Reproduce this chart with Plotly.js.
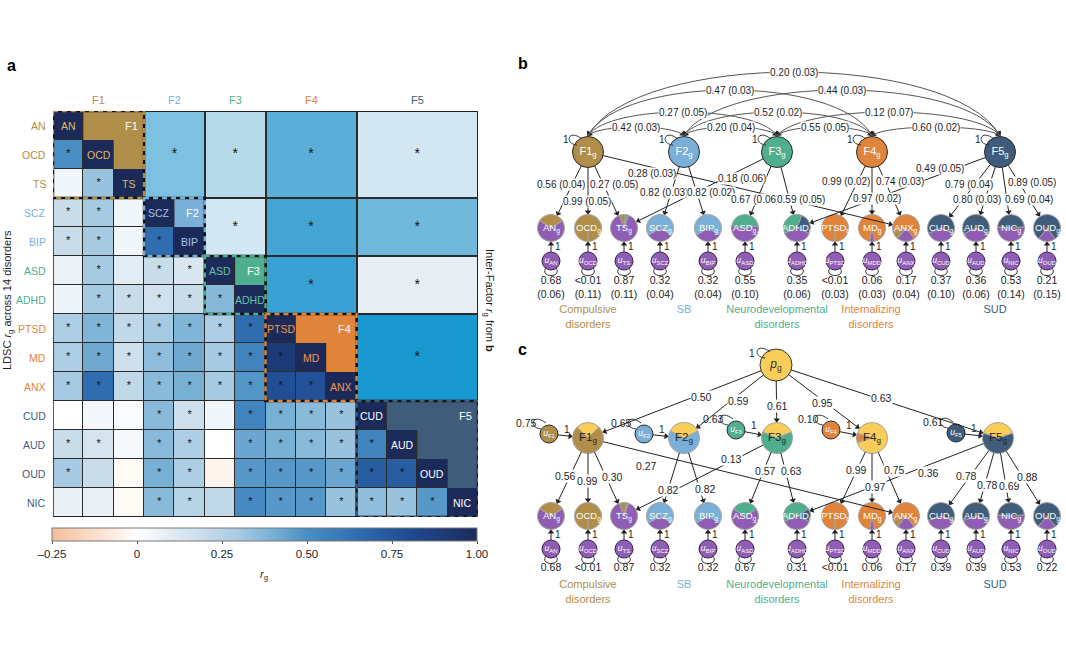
<!DOCTYPE html>
<html><head><meta charset="utf-8">
<script src="https://cdn.plot.ly/plotly-3.0.1.min.js"></script>
<style>html,body{margin:0;padding:0;background:#fff}#chart{width:1066px;height:660px}</style>
</head><body><div id="chart"></div>
<script>
// ---------------- DATA ----------------
const disorders = ['AN','OCD','TS','SCZ','BIP','ASD','ADHD','PTSD','MD','ANX','CUD','AUD','OUD','NIC'];
const disorderFactor = [0,0,0,1,1,2,2,3,3,3,4,4,4,4];
const factorNames = ['F1','F2','F3','F4','F5'];
// LDSC rg, lower triangle (row i, columns 0..i-1)
const ldscLower = [
  [],
  [0.50],
  [0.05,0.33],
  [0.20,0.30,0.05],
  [0.20,0.30,0.05,0.65],
  [0.07,0.30,0.10,0.20,0.13],
  [0.06,0.30,0.20,0.17,0.20,0.37],
  [0.28,0.38,0.22,0.30,0.38,0.28,0.65],
  [0.28,0.42,0.18,0.35,0.42,0.30,0.55,0.90],
  [0.30,0.65,0.22,0.36,0.40,0.30,0.48,0.78,0.77],
  [0.00,0.04,0.02,0.36,0.18,0.05,0.55,0.40,0.36,0.33],
  [0.20,0.15,0.03,0.36,0.28,0.00,0.43,0.40,0.36,0.33,0.55],
  [0.30,0.20,-0.02,0.40,0.28,-0.04,0.47,0.47,0.47,0.43,0.72,0.72],
  [0.08,0.08,-0.02,0.36,0.25,0.22,0.52,0.47,0.47,0.33,0.35,0.33,0.47]
];
const ldscSig = [
  [],
  [1],
  [0,1],
  [1,1,0],
  [1,1,0,1],
  [0,1,0,1,1],
  [0,1,1,1,1,1],
  [1,1,1,1,1,1,1],
  [1,1,1,1,1,1,1,1],
  [1,1,1,1,1,1,1,1,1],
  [0,0,0,1,1,0,1,1,1,1],
  [1,1,0,1,1,0,1,1,1,1,1],
  [1,0,0,1,1,0,1,1,1,1,1,1],
  [0,0,0,1,1,0,1,1,1,1,1,1,1]
];
// inter-factor correlations (panel b)
const corrFrom = [0,0,0,0,1,1,1,2,2,3];
const corrTo   = [1,2,3,4,2,3,4,3,4,4];
const corrEst  = [0.42,0.27,0.47,0.20,0.20,0.52,0.44,0.55,0.12,0.60];
const corrSE   = [0.03,0.05,0.03,0.03,0.04,0.02,0.03,0.05,0.07,0.02];
// model indicators
const modelInd = ['AN','OCD','TS','SCZ','BIP','ASD','ADHD','PTSD','MD','ANX','CUD','AUD','NIC','OUD'];
const uNames   = ['AN','OCD','TS','SCZ','BIP','ASD','ADHD','PTSD','MDD','ANX','CUD','AUD','NIC','OUD'];
const loadFactor = [0,0,0,0,1,1,2,2,2,3,3,3,4,4,4,4,4];
const loadInd    = ['AN','OCD','TS','ANX','SCZ','BIP','TS','ASD','ADHD','PTSD','MD','ANX','ADHD','CUD','AUD','NIC','OUD'];
const loadEstB   = [0.56,0.99,0.27,0.28,0.82,0.82,0.18,0.67,0.59,0.99,0.97,0.74,0.49,0.79,0.80,0.69,0.89];
const loadSEB    = [0.04,0.05,0.05,0.03,0.03,0.02,0.06,0.06,0.05,0.02,0.02,0.03,0.05,0.04,0.03,0.04,0.05];
const residB     = [0.68,0.005,0.87,0.32,0.32,0.55,0.35,0.005,0.06,0.17,0.37,0.36,0.53,0.21];
const residSEB   = [0.06,0.11,0.11,0.04,0.04,0.10,0.06,0.03,0.03,0.04,0.10,0.06,0.14,0.15];
// panel c (hierarchical)
const pLoad        = [0.50,0.59,0.61,0.95,0.63];
const factorResidC = [0.75,0.65,0.63,0.10,0.61];
const loadEstC     = [0.56,0.99,0.30,0.27,0.82,0.82,0.13,0.57,0.63,0.99,0.97,0.75,0.36,0.78,0.78,0.69,0.88];
const residC       = [0.68,0.005,0.87,0.32,0.32,0.67,0.31,0.005,0.06,0.17,0.39,0.39,0.53,0.22];
const groupNames = ['Compulsive<br>disorders','SB','Neurodevelopmental<br>disorders','Internalizing<br>disorders','SUD'];

// ---------------- LAYOUT / STYLE ----------------
const W=1066,H=660;
const FONT='Liberation Sans, Arial, Helvetica, sans-serif';
const FCOL=['#b08d48','#7aafd8','#4fae8e','#e0843c','#3f5c7a'];
const DIAGCOL=['#dcba6a','#a3c6e8','#66c4a2','#ef9852','#ffffff'];
const PURPLE='#8f5db3', PGCOL='#f8cd58', INK='#1e1e1e';
const R_F=15.5, R_I=13.5, R_U=9, R_PG=16;
const FX_B=[588,684,777,872,1000], FY_B=152;
const FX_C=[588,684,777,872,998], FY_C=438;
const IND_X=[551,588,624,660,708,745,797,835,872,906,941,976,1011,1047];
const GRP_X=[588,684,777,871,995];
const ARC_APEX=[127,112,90,72,127,112,90,127,112,127];
const LAB_B=[[561,184],[587,201],[614,184],[652,173],[664,192],[711,192],[742,178],[755,199],[801,199],[846,181],[877,198],[900,181],[940,168],[969,184],[977,199],[1029,199],[1032,182]];
const LAB_C=[[565,476],[587,481],[612,477],[646,466],[668,490],[705,489],[731,459],[765,471],[791,471],[856,470],[875,487],[894,470],[928,473],[966,476],[987,485],[1009,486],[1027,477]];
const PG=[776,365];
const P_LAB=[[701,397],[738,401],[777,406],[822,403],[881,398]];
const UF_X=[549,644,736,831,956], UF_Y=[434,434,430,430,433];
const RES_ANG=[180,180,180,270,180];

const traces=[], shapes=[], annos=[];
const N=disorders.length;

// ---------------- PANEL A: heatmap ----------------
const fStart=[],fEnd=[];
disorderFactor.forEach((f,i)=>{ if(fStart[f]===undefined) fStart[f]=i; fEnd[f]=i; });
const zMain=[], starX=[], starY=[];
for(let i=0;i<N;i++){ const row=[]; for(let j=0;j<N;j++){
  if(j<i){ row.push(ldscLower[i][j]); if(ldscSig[i][j]){starX.push(j);starY.push(i);} }
  else if(j===i) row.push(1); else row.push(null);
} zMain.push(row); }
const edges=[-0.5].concat(fEnd.map(e=>e+0.5));
const zBlock=[]; const bsX=[],bsY=[];
for(let a=0;a<5;a++){ const row=[]; for(let b=0;b<5;b++){
  let v=null; for(let q=0;q<corrFrom.length;q++){ if(corrFrom[q]===a&&corrTo[q]===b) v=corrEst[q]; }
  row.push(v); if(v!==null){ bsX.push((fStart[b]+fEnd[b])/2); bsY.push((fStart[a]+fEnd[a])/2); }
} zBlock.push(row); }

const csMain=[[0,'#f5bf9a'],[0.12,'#fbe4d4'],[0.2,'#ffffff'],[0.28,'#e2ecf4'],[0.36,'#c8dcea'],[0.44,'#a6cae2'],[0.52,'#78b0d4'],[0.6,'#4a8ec4'],[0.72,'#2f6db0'],[0.84,'#1f4a92'],[1,'#1c2a5a']];
const csBlock=[[0,'#f5bf9a'],[0.2,'#ffffff'],[0.296,'#e6eef4'],[0.36,'#d2e7f1'],[0.416,'#b6daea'],[0.536,'#7ec0e0'],[0.576,'#5aaed8'],[0.616,'#44a4d4'],[0.64,'#38a0d2'],[0.68,'#1a98d0'],[1,'#0b4f8a']];

traces.push({type:'heatmap',x:disorders.map((d,i)=>i),y:disorders.map((d,i)=>i),z:zMain,zmin:-0.25,zmax:1,
  colorscale:csMain,xgap:1,ygap:1,hoverinfo:'skip',
  colorbar:{orientation:'h',x:264.5/W,xanchor:'center',y:1-528/H,yanchor:'top',len:425/W,lenmode:'fraction',
    thickness:13,thicknessmode:'pixels',xpad:0,ypad:0,outlinewidth:1,outlinecolor:'#777',
    tickvals:[-0.25,0,0.25,0.5,0.75,1],ticktext:['–0.25','0','0.25','0.50','0.75','1.00'],
    ticks:'outside',ticklen:3,tickcolor:'#555',tickfont:{family:FONT,size:11.5,color:INK}}});
traces.push({type:'heatmap',x:edges,y:edges,z:zBlock,zmin:-0.25,zmax:1,colorscale:csBlock,showscale:false,xgap:2,ygap:2,hoverinfo:'skip'});
traces.push({type:'scatter',mode:'text',x:starX,y:starY,text:starX.map(()=>'*'),textfont:{family:FONT,size:11,color:'#111'},hoverinfo:'skip',showlegend:false});
traces.push({type:'scatter',mode:'text',x:bsX,y:bsY,text:bsX.map(()=>'*'),textfont:{family:FONT,size:14,color:'#111'},hoverinfo:'skip',showlegend:false});

shapes.push({type:'rect',xref:'x',yref:'y',x0:-0.5,x1:13.5,y0:-0.5,y1:13.5,fillcolor:'#2a2a2a',line:{width:0},layer:'below'});
for(let f=0;f<5;f++){
  const s=fStart[f],e=fEnd[f];
  let p=`M ${s+0.5},${s-0.5} L ${e+0.5},${s-0.5} L ${e+0.5},${e-0.5}`;
  for(let k=e;k>s;k--){ p+=` L ${k-0.5},${k-0.5} L ${k-0.5},${k-1.5}`; }
  p+=' Z';
  shapes.push({type:'path',xref:'x',yref:'y',path:p,fillcolor:FCOL[f],line:{width:0},layer:'above'});
}
shapes.push({type:'rect',xref:'x',yref:'y',x0:-0.5,x1:13.5,y0:-0.5,y1:13.5,line:{color:'#222',width:1.5},layer:'above'});
for(let f=0;f<5;f++){
  const s=fStart[f],e=fEnd[f];
  shapes.push({type:'rect',xref:'x',yref:'y',x0:s-0.5,x1:e+0.5,y0:s-0.5,y1:e+0.5,line:{color:'#111',width:2.4},layer:'above'});
  shapes.push({type:'rect',xref:'x',yref:'y',x0:s-0.5,x1:e+0.5,y0:s-0.5,y1:e+0.5,line:{color:FCOL[f],width:2.4,dash:'5px,4px'},layer:'above'});
}
disorders.forEach((d,i)=>{
  const f=disorderFactor[i];
  annos.push({xref:'paper',yref:'y',x:48/W,y:i,xanchor:'right',yanchor:'middle',text:d,showarrow:false,font:{family:FONT,size:10.5,color:FCOL[f]}});
  annos.push({xref:'x',yref:'y',x:i,y:i,text:d,showarrow:false,font:{family:FONT,size:10.5,color:DIAGCOL[f]}});
});
for(let f=0;f<5;f++){
  annos.push({xref:'x',yref:'paper',x:(fStart[f]+fEnd[f])/2,y:1-100/H,yanchor:'middle',xanchor:'center',text:factorNames[f],showarrow:false,font:{family:FONT,size:11,color:FCOL[f]}});
  annos.push({xref:'x',yref:'y',x:fEnd[f],y:fStart[f],xshift:3,text:factorNames[f],showarrow:false,font:{family:FONT,size:11,color:'#ffffff'}});
}
function paperText(x,y,text,o){annos.push(Object.assign({xref:'paper',yref:'paper',x:x/W,y:1-y/H,xanchor:'center',yanchor:'middle',text:text,showarrow:false,font:{family:FONT,size:11,color:INK}},o||{}));}
paperText(8,300,'LDSC <i>r</i><sub>g</sub> across 14 disorders',{textangle:-90});
paperText(489,300,'Inter-Factor <i>r</i><sub>g</sub> from <b>b</b>',{textangle:90});
paperText(264,575,'<i>r</i><sub>g</sub>');
paperText(5,66,'<b>a</b>',{xanchor:'left',font:{family:FONT,size:16,color:'#000'}});
paperText(516,64,'<b>b</b>',{xanchor:'left',font:{family:FONT,size:16,color:'#000'}});
paperText(516,349,'<b>c</b>',{xanchor:'left',font:{family:FONT,size:16,color:'#000'}});

// ---------------- helpers for diagrams ----------------
const headX=[],headY=[],headA=[];
function arrow(x0,y0,x1,y1,s0,s1,col){
  const dx=x1-x0, dy=y1-y0, L=Math.hypot(dx,dy), ux=dx/L, uy=dy/L;
  shapes.push({type:'line',xref:'x2',yref:'y2',x0:x0+s0*ux,y0:y0+s0*uy,x1:x1-(s1+2)*ux,y1:y1-(s1+2)*uy,line:{color:col||'#222',width:1},layer:'above'});
  headX.push(x1-(s1+2.6)*ux); headY.push(y1-(s1+2.6)*uy); headA.push(Math.atan2(ux,-uy)*180/Math.PI);
}
function label(x,y,text,o){annos.push(Object.assign({xref:'x2',yref:'y2',x:x,y:y,text:text,showarrow:false,font:{family:FONT,size:10,color:INK},bgcolor:'#ffffff',borderpad:0},o||{}));}
function note(x,y,text,o){annos.push(Object.assign({xref:'x2',yref:'y2',x:x,y:y,text:text,showarrow:false,font:{family:FONT,size:10,color:INK}},o||{}));}
function pie(cx,cy,r,values,colors,rotation){traces.push({type:'pie',values:values,marker:{colors:colors,line:{color:'#a3a3a3',width:1}},domain:{x:[(cx-r)/W,(cx+r)/W],y:[1-(cy+r)/H,1-(cy-r)/H]},sort:false,direction:'clockwise',rotation:rotation,textinfo:'none',hoverinfo:'skip',showlegend:false});}
function loop(x,y){
  shapes.push({type:'path',xref:'x2',yref:'y2',path:`M ${x-11},${y-7} C ${x-24},${y-8} ${x-20},${y-24} ${x-6},${y-13}`,line:{color:'#333',width:1}});
}
function fmt(v){return v<0.01?'&lt;0.01':v.toFixed(2);}

function indicators(yI,yU,yV,resid,residSE,loadEst,fx,fy,labPos,withSE,grpY){
  modelInd.forEach((name,k)=>{
    const x=IND_X[k];
    const vals=[Math.max(resid[k],0.004)], cols=[PURPLE];
    loadInd.forEach((nm,m)=>{ if(nm===name){ vals.push(loadEst[m]*loadEst[m]); cols.push(FCOL[loadFactor[m]]); } });
    const tot=vals.reduce((a,b)=>a+b,0);
    pie(x,yI,R_I,vals,cols,180-180*vals[0]/tot);
    note(x,yI,name+'<sub>g</sub>',{font:{family:FONT,size:9.5,color:'#ffffff'}});
    arrow(x,yU,x,yI,R_U,R_I);
    note(x+7,(yU+yI)/2+2,'1');
    shapes.push({type:'path',xref:'x2',yref:'y2',path:`M ${x-5},${yU+7} C ${x-12},${yU+17} ${x+12},${yU+17} ${x+5},${yU+7}`,line:{color:'#333',width:1}});
  });
  traces.push({type:'scatter',mode:'markers+text',xaxis:'x2',yaxis:'y2',x:IND_X,y:IND_X.map(()=>yU),
    marker:{size:2*R_U,color:PURPLE,line:{color:'#3a2150',width:1}},
    text:uNames.map(n=>'<i>u</i><sub>'+n+'</sub>'),textposition:'middle center',
    textfont:{family:FONT,size:8.5,color:'#ffffff'},hoverinfo:'skip',cliponaxis:false,showlegend:false});
  traces.push({type:'scatter',mode:'text',xaxis:'x2',yaxis:'y2',x:IND_X,y:IND_X.map(()=>yV),
    text:resid.map((v,k)=>fmt(v)+(withSE?'<br>('+residSE[k].toFixed(2)+')':'')),textposition:'bottom center',
    textfont:{family:FONT,size:10.5,color:INK},hoverinfo:'skip',cliponaxis:false,showlegend:false});
  traces.push({type:'scatter',mode:'text',xaxis:'x2',yaxis:'y2',x:GRP_X,y:GRP_X.map(()=>grpY),
    text:groupNames,textposition:'bottom center',textfont:{family:FONT,size:11,color:FCOL},hoverinfo:'skip',cliponaxis:false,showlegend:false});
  loadFactor.forEach((f,m)=>{ const k=modelInd.indexOf(loadInd[m]); arrow(fx[f],fy,IND_X[k],yI,R_F,R_I); });
  loadFactor.forEach((f,m)=>{
    const t=withSE? loadEst[m].toFixed(2)+' ('+loadSEB[m].toFixed(2)+')' : loadEst[m].toFixed(2);
    label(labPos[m][0],labPos[m][1],t,withSE?{}:{font:{family:FONT,size:10.5,color:INK}});
  });
}

// ---------------- PANEL B ----------------
indicators(228,261,276,residB,residSEB,loadEstB,FX_B,FY_B,LAB_B,true,305);
corrFrom.forEach((a,q)=>{
  const b=corrTo[q], x0=FX_B[a], x1=FX_B[b], y0=FY_B-R_F-1;
  const apex=ARC_APEX[q], yc=(apex-0.25*y0)/0.75, dx=x1-x0;
  const c1x=x0+0.12*dx, c2x=x1-0.12*dx;
  shapes.push({type:'path',xref:'x2',yref:'y2',path:`M ${x0},${y0} C ${c1x},${yc} ${c2x},${yc} ${x1},${y0}`,line:{color:'#555',width:1}});
  [[x0,c1x],[x1,c2x]].forEach(pp=>{ const vx=pp[1]-pp[0], vy=yc-y0, L=Math.hypot(vx,vy);
    headX.push(pp[0]+2.2*vx/L); headY.push(y0+2.2*vy/L); headA.push(Math.atan2(-vx,vy)*180/Math.PI); });
});
corrFrom.forEach((a,q)=>{ label((FX_B[a]+FX_B[corrTo[q]])/2,ARC_APEX[q],corrEst[q].toFixed(2)+' ('+corrSE[q].toFixed(2)+')'); });
traces.push({type:'scatter',mode:'markers+text',xaxis:'x2',yaxis:'y2',x:FX_B,y:FX_B.map(()=>FY_B),
  marker:{size:2*R_F,color:FCOL,line:{color:'#2a2a2a',width:1}},
  text:factorNames.map(n=>n+'<sub>g</sub>'),textposition:'middle center',textfont:{family:FONT,size:11,color:'#ffffff'},
  hoverinfo:'skip',cliponaxis:false,showlegend:false});
FX_B.forEach(x=>{ loop(x,FY_B); note(x-22,FY_B-13,'1'); });

// ---------------- PANEL C ----------------
indicators(516,549,563,residC,null,loadEstC,FX_C,FY_C,LAB_C,false,580);
traces.push({type:'scatter',mode:'markers+text',xaxis:'x2',yaxis:'y2',x:[PG[0]],y:[PG[1]],
  marker:{size:2*R_PG,color:PGCOL,line:{color:'#333',width:1}},text:['<i>p</i><sub>g</sub>'],textposition:'middle center',
  textfont:{family:FONT,size:12,color:'#333'},hoverinfo:'skip',cliponaxis:false,showlegend:false});
loop(PG[0],PG[1]);
note(PG[0]-24,PG[1]-12,'1');
pLoad.forEach((v,f)=>{
  const frac=factorResidC[f]/(factorResidC[f]+v*v);
  pie(FX_C[f],FY_C,R_F,[factorResidC[f],v*v],[FCOL[f],PGCOL],RES_ANG[f]-180*frac);
  note(FX_C[f],FY_C,factorNames[f]+'<sub>g</sub>',{font:{family:FONT,size:11.5,color:'#222'}});
  arrow(PG[0],PG[1],FX_C[f],FY_C,R_PG,R_F);
  arrow(UF_X[f],UF_Y[f],FX_C[f],FY_C,R_U,R_F);
  note(UF_X[f]+18,UF_Y[f]-5,'1');
  loop(UF_X[f]+3,UF_Y[f]+2);
  note(UF_X[f]-23,UF_Y[f]-11,factorResidC[f].toFixed(2),{font:{family:FONT,size:10.5,color:INK}});
});
pLoad.forEach((v,f)=>{ label(P_LAB[f][0],P_LAB[f][1],v.toFixed(2),{font:{family:FONT,size:10.5,color:INK}}); });
traces.push({type:'scatter',mode:'markers+text',xaxis:'x2',yaxis:'y2',x:UF_X,y:UF_Y,
  marker:{size:2*R_U,color:FCOL,line:{color:'#2a2a2a',width:1}},text:factorNames.map(n=>'<i>u</i><sub>'+n+'</sub>'),
  textposition:'middle center',textfont:{family:FONT,size:8.5,color:'#ffffff'},hoverinfo:'skip',cliponaxis:false,showlegend:false});
// arrowheads
traces.push({type:'scatter',mode:'markers',xaxis:'x2',yaxis:'y2',x:headX,y:headY,
  marker:{symbol:'triangle-up',size:5.5,color:'#222',angle:headA,line:{width:0}},hoverinfo:'skip',cliponaxis:false,showlegend:false});

const layout={width:W,height:H,margin:{l:0,r:0,t:0,b:0,pad:0,autoexpand:false},paper_bgcolor:'#ffffff',plot_bgcolor:'rgba(0,0,0,0)',
  showlegend:false,font:{family:FONT,color:INK},
  xaxis:{domain:[53/W,478/W],range:[-0.5,13.5],visible:false,fixedrange:true},
  yaxis:{domain:[1-517/H,1-111/H],range:[13.5,-0.5],visible:false,fixedrange:true},
  xaxis2:{domain:[0,1],range:[0,W],visible:false,anchor:'y2',fixedrange:true},
  yaxis2:{domain:[0,1],range:[H,0],visible:false,anchor:'x2',fixedrange:true},
  shapes:shapes,annotations:annos};
Plotly.newPlot('chart',traces,layout,{staticPlot:true,displayModeBar:false});
</script></body></html>
